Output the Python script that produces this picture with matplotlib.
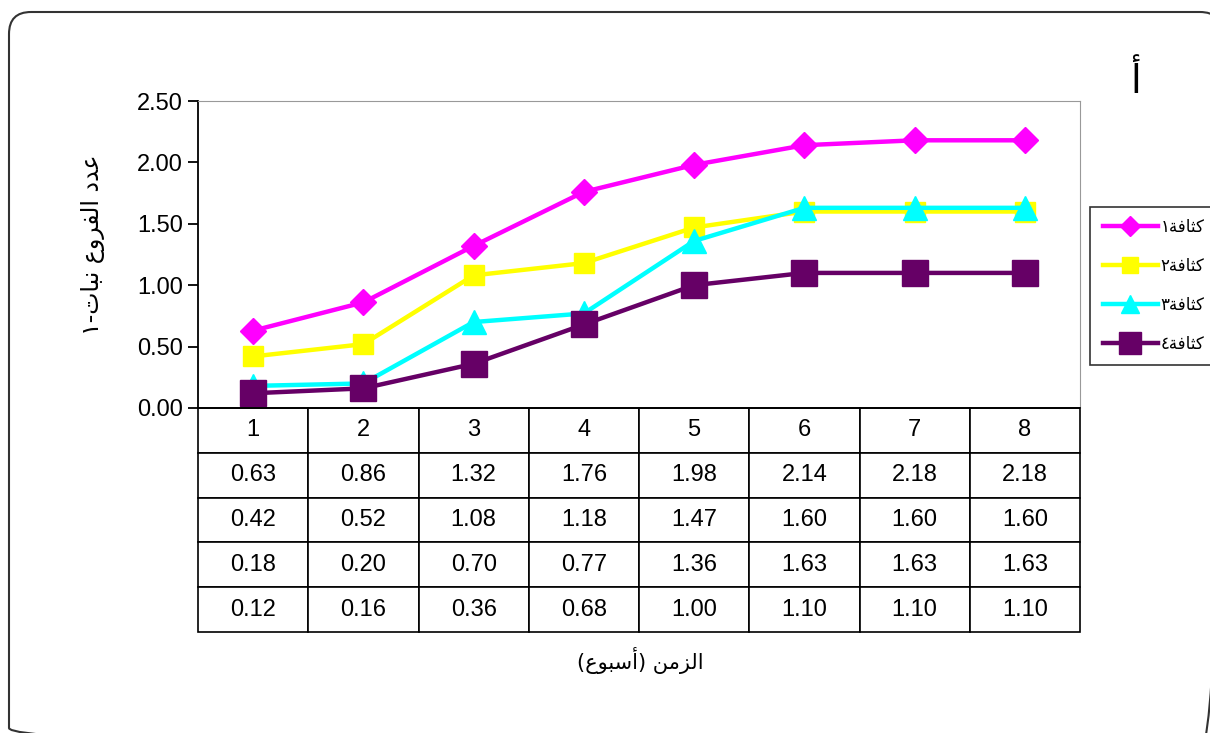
import matplotlib.pyplot as plt
from matplotlib.patches import FancyBboxPatch

plt.rcParams['font.family'] = ['Liberation Sans', 'DejaVu Sans']

# weeks and branch counts per plant for the four densities
weeks = [1, 2, 3, 4, 5, 6, 7, 8]
density_1 = [0.63, 0.86, 1.32, 1.76, 1.98, 2.14, 2.18, 2.18]
density_2 = [0.42, 0.52, 1.08, 1.18, 1.47, 1.60, 1.60, 1.60]
density_3 = [0.18, 0.20, 0.70, 0.77, 1.36, 1.63, 1.63, 1.63]
density_4 = [0.12, 0.16, 0.36, 0.68, 1.00, 1.10, 1.10, 1.10]

# Arabic strings in visual (left-to-right) order with presentation forms,
# since matplotlib does no shaping or bidi reordering
kathafa = '\uFE94\uFED3\uFE8E\uFE9C\uFEDB'
labels = ['\u0661' + kathafa, '\u0662' + kathafa,
          '\u0663' + kathafa, '\u0664' + kathafa]
xlabel = '(\uFEC9\uFEEE\uFE92\uFEB3\uFE83) \uFEE6\uFEE3\uFEB0\uFEDF\uFE8D'
ylabel = ('\u0661-\uFE95\uFE8E\uFE92\uFEE7 '
          '\uFEC9\uFEED\uFEAE\uFED4\uFEDF\uFE8D '
          '\uFEA9\uFEAA\uFECB')
panel = '\u0623'

series = [density_1, density_2, density_3, density_4]
colors = ['#FF00FF', '#FFFF00', '#00FFFF', '#660066']
markers = ['D', 's', '^', 's']
msizes = [13, 14, 17, 19]

fig = plt.figure(figsize=(12.1, 7.33), dpi=100)

# rounded outer frame, drawn on a pixel-scaled overlay so corners stay round;
# it runs just past the right and bottom edges of the figure
bg = fig.add_axes([0, 0, 1, 1], zorder=-1)
bg.set_xlim(0, 1210)
bg.set_ylim(733, 0)
bg.axis('off')
bg.add_patch(FancyBboxPatch((9, 12), 1213, 738,
                            boxstyle='round,pad=0,rounding_size=22',
                            fill=False, edgecolor='#333333', linewidth=1.5,
                            clip_on=False))

ax = fig.add_axes([198 / 1210, 1 - 408 / 733, 882 / 1210, 307 / 733])
ax.patch.set_alpha(0)

x = range(len(weeks))
for vals, lab, c, m, ms in zip(series, labels, colors, markers, msizes):
    ax.plot(x, vals, color=c, marker=m, markersize=ms, linewidth=3.2,
            label=lab, clip_on=False)

ax.set_xlim(-0.5, len(weeks) - 0.5)
ax.set_ylim(0, 2.5)
ax.set_yticks([0, 0.5, 1.0, 1.5, 2.0, 2.5])
ax.set_yticklabels([f'{t:.2f}' for t in ax.get_yticks()], fontsize=17)
ax.set_xticks([])
ax.tick_params(axis='y', direction='out', length=7, width=1.3, pad=4)
for side in ['top', 'right']:
    ax.spines[side].set_color('#999999')
ax.spines['left'].set_linewidth(1.3)
ax.spines['bottom'].set_linewidth(1.3)

# data table under the plot
cell_text = [[f'{v:.2f}' for v in s] for s in series]
table = ax.table(cellText=cell_text, colLabels=[str(w) for w in weeks],
                 cellLoc='center', bbox=[0, -0.73, 1, 0.73])
table.auto_set_font_size(False)
table.set_fontsize(17)
for cell in table.get_celld().values():
    cell.set_linewidth(1.2)
    cell.set_edgecolor('black')

fig.text(640 / 1210, 1 - 660 / 733, xlabel, ha='center', va='center',
         fontsize=15, family=['DejaVu Sans'])
fig.text(93 / 1210, 1 - 245 / 733, ylabel, ha='center', va='center',
         rotation=90, fontsize=17, family=['DejaVu Sans'])
fig.text(1136 / 1210, 1 - 82 / 733, panel, ha='center', va='center',
         fontsize=28, family=['DejaVu Sans'])

leg = fig.legend(loc='upper left', bbox_to_anchor=(1090 / 1210, 1 - 207 / 733),
                 bbox_transform=fig.transFigure, fontsize=12, frameon=True,
                 fancybox=False, edgecolor='black', handlelength=3.3,
                 labelspacing=1.45, borderpad=0.75, borderaxespad=0,
                 handletextpad=0.2, markerscale=0.8)
leg.get_frame().set_linewidth(1.2)

plt.savefig('out.png', dpi=100)
